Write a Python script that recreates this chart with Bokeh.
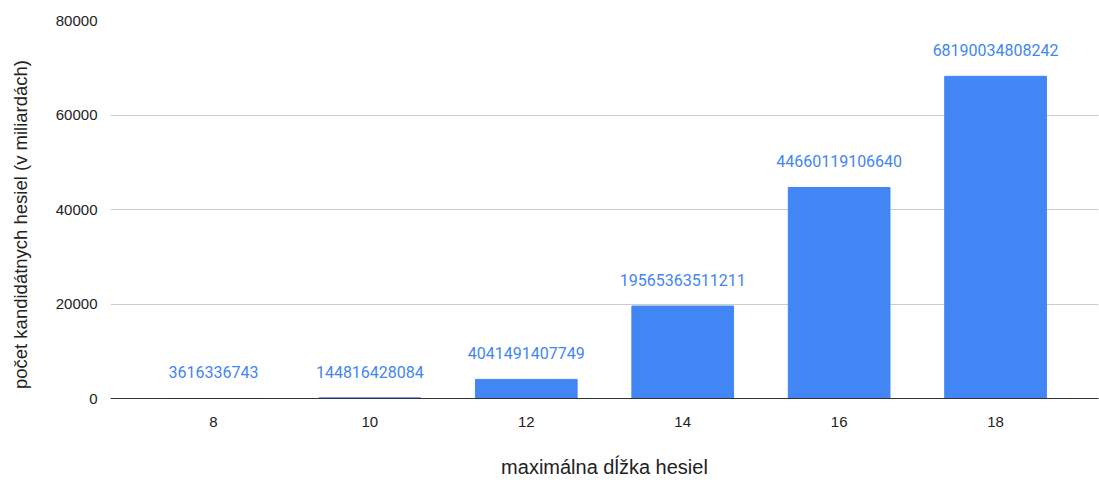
import math
from bokeh.plotting import figure
from bokeh.layouts import row
from bokeh.models import ColumnDataSource, FactorRange, Range1d, SingleIntervalTicker, Label
from bokeh.core.properties import value
from bokeh.embed import file_html
from bokeh.resources import INLINE

# maximum password length and the number of candidate passwords
lengths = ["8", "10", "12", "14", "16", "18"]
counts = [3616336743, 144816428084, 4041491407749,
          19565363511211, 44660119106640, 68190034808242]
counts_billions = [c / 1e9 for c in counts]
count_labels = [str(c) for c in counts]

y_title_text = "počet kandidátnych hesiel (v miliardách)"
x_title_text = "maximálna dĺžka hesiel"

axis_font = "Liberation Sans"
bar_color = "#4285f4"

src = ColumnDataSource(dict(x=lengths, top=counts_billions, label=count_labels))

# narrow strip on the left that carries the rotated y-axis title;
# the row aligns its frame with the main plot's frame (y 20..400)
side = figure(
    width=40, height=480,
    x_range=Range1d(0, 40), y_range=Range1d(0, 380),
    x_axis_type=None, y_axis_type=None,
    output_backend="svg", toolbar_location=None,
    min_border_left=0, min_border_right=0, min_border_top=0, min_border_bottom=0,
)
side.outline_line_color = None
side.add_layout(Label(text=y_title_text, x=20, y=174, x_units="screen", y_units="screen",
                      angle=math.pi / 2, text_align="center", text_baseline="middle",
                      text_font=axis_font, text_font_size="18.5px",
                      text_color="#222222"))

p = figure(
    width=1059, height=480,
    x_range=FactorRange(*lengths, range_padding=0.158, range_padding_units="absolute"),
    y_range=Range1d(0, 80000),
    output_backend="svg", toolbar_location=None,
    min_border_left=70, min_border_right=1, min_border_top=20, min_border_bottom=80,
)
p.outline_line_color = None

p.vbar(x="x", top="top", width=0.65, source=src, fill_color=bar_color,
       line_color=bar_color, line_width=1)

p.text(x="x", y="top", text="label", source=src, text_align="center",
       text_baseline="bottom", y_offset=-20, text_color=bar_color,
       text_font=value("Roboto"), text_font_size="16px")

# y axis
p.yaxis.ticker = SingleIntervalTicker(interval=20000)
p.yaxis.major_label_text_font = axis_font
p.yaxis.major_label_text_font_size = "15px"
p.yaxis.major_label_text_color = "#222222"
p.yaxis.major_label_standoff = 7
p.yaxis.axis_line_color = None
p.yaxis.major_tick_line_color = None
p.yaxis.minor_tick_line_color = None

# x axis
p.xaxis.axis_label = x_title_text
p.xaxis.axis_label_text_font = axis_font
p.xaxis.axis_label_text_font_style = "normal"
p.xaxis.axis_label_text_font_size = "20px"
p.xaxis.axis_label_text_color = "#222222"
p.xaxis.axis_label_standoff = 26
p.xaxis.major_label_text_font = axis_font
p.xaxis.major_label_text_font_size = "15px"
p.xaxis.major_label_text_color = "#222222"
p.xaxis.major_label_standoff = 12
p.xaxis.axis_line_color = "#333333"
p.xaxis.axis_line_width = 1
p.xaxis.major_tick_line_color = None

p.xgrid.grid_line_color = None
p.ygrid.grid_line_color = "#cccccc"

layout = row(side, p)
open("out.html", "w").write(file_html(layout, INLINE))
